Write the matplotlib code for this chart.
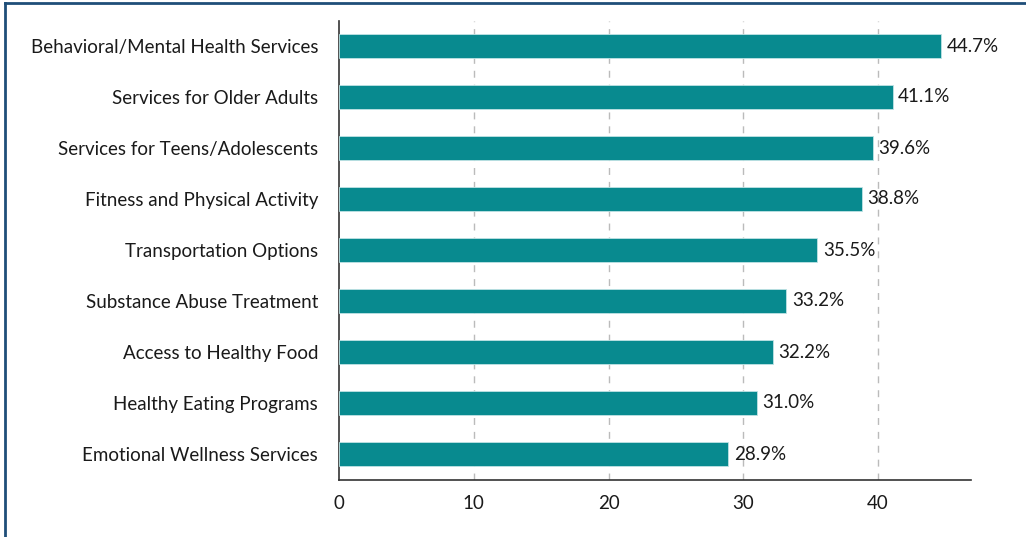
import matplotlib
matplotlib.use("Agg")
import matplotlib.pyplot as plt
from matplotlib.lines import Line2D

categories = [
    "Behavioral/Mental Health Services",
    "Services for Older Adults",
    "Services for Teens/Adolescents",
    "Fitness and Physical Activity",
    "Transportation Options",
    "Substance Abuse Treatment",
    "Access to Healthy Food",
    "Healthy Eating Programs",
    "Emotional Wellness Services",
]
values = [44.7, 41.1, 39.6, 38.8, 35.5, 33.2, 32.2, 31.0, 28.9]
xticks = [0, 10, 20, 30, 40]

plt.rcParams['font.family'] = ['Lato', 'DejaVu Sans']
FS = 13.5

fig = plt.figure(figsize=(10.26, 5.37), dpi=100)
ax = fig.add_axes([339/1026, 1 - 479.5/537, (971-339)/1026, (479.5-20.5)/537])

ypos = list(range(len(categories)))
ax.barh(ypos, values, height=0.48, color='#088a8f', edgecolor='#bfe3e4', linewidth=0.6, zorder=3)
for y, v in zip(ypos, values):
    ax.text(v + 0.4, y, f"{v:.1f}%", va='center', ha='left', fontsize=FS, color='#1a1a1a', zorder=4)

ax.set_yticks(ypos)
ax.set_yticklabels(categories, fontsize=FS, color='#1a1a1a')
ax.set_ylim(len(categories) - 0.5, -0.5)
ax.set_xlim(0, 46.9)
ax.set_xticks(xticks)
ax.set_xticklabels([str(t) for t in xticks], fontsize=FS, color='#1a1a1a')
ax.tick_params(axis='both', length=0)
ax.tick_params(axis='y', pad=15)
ax.tick_params(axis='x', pad=11)

for t in xticks[1:]:
    ax.axvline(t, color='#bbbbbb', linestyle=(0, (5, 5)), linewidth=1, zorder=1)

for s in ['top', 'right']:
    ax.spines[s].set_visible(False)
ax.spines['left'].set_color('#333333')
ax.spines['bottom'].set_color('#333333')
ax.spines['left'].set_linewidth(1.2)
ax.spines['bottom'].set_linewidth(1.2)

# figure frame (top and left edges visible)
fig.add_artist(Line2D([5/1026, 1], [1 - 3/537, 1 - 3/537], transform=fig.transFigure, color='#1f4e79', linewidth=2))
fig.add_artist(Line2D([5/1026, 5/1026], [0, 1 - 3/537], transform=fig.transFigure, color='#1f4e79', linewidth=2))

fig.savefig("out.png", dpi=100)
